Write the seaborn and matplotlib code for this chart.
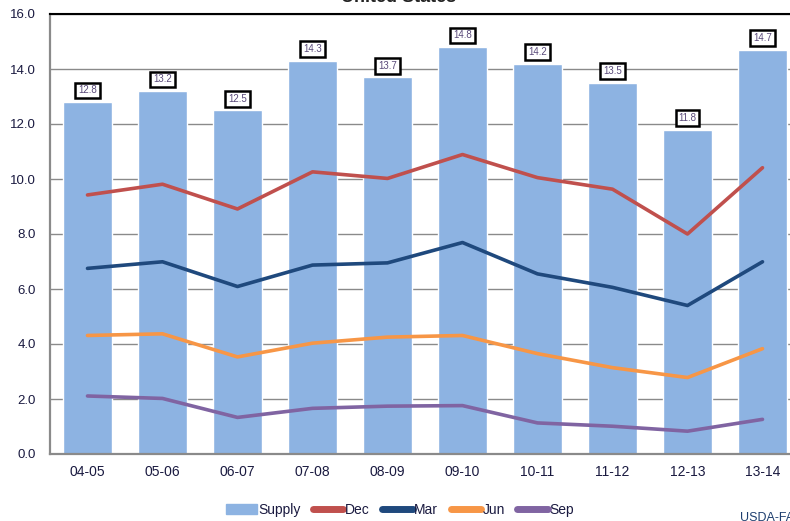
import numpy as np
import pandas as pd
import matplotlib
matplotlib.use("Agg")
import matplotlib.pyplot as plt
import seaborn as sns
from matplotlib.patches import Patch
from matplotlib.lines import Line2D

seasons = ["04-05", "05-06", "06-07", "07-08", "08-09", "09-10", "10-11", "11-12", "12-13", "13-14"]
supply = [12.8, 13.2, 12.5, 14.3, 13.7, 14.8, 14.2, 13.5, 11.8, 14.7]
dec = [9.42, 9.81, 8.91, 10.26, 10.02, 10.89, 10.05, 9.63, 8.0, 10.41]
mar = [6.75, 6.99, 6.09, 6.87, 6.95, 7.69, 6.55, 6.06, 5.40, 6.99]
jun = [4.31, 4.37, 3.53, 4.03, 4.25, 4.31, 3.65, 3.14, 2.78, 3.83]
sep = [2.11, 2.02, 1.33, 1.66, 1.74, 1.76, 1.13, 1.01, 0.83, 1.26]

bar_color = "#8DB3E2"
line_colors = {"Dec": "#C0504D", "Mar": "#1F497D", "Jun": "#F79646", "Sep": "#8064A2"}
text_color = "#1a1a40"

sns.set_style("white")
plt.rcParams["font.family"] = ["Liberation Sans", "DejaVu Sans"]

bars = pd.DataFrame({"season": seasons, "supply": supply})
lines = pd.DataFrame({"pos": np.arange(len(seasons)), "Dec": dec, "Mar": mar, "Jun": jun, "Sep": sep})
lines = lines.melt(id_vars="pos", var_name="month", value_name="value")

fig = plt.figure(figsize=(7.9, 5.21), dpi=100)
ax = fig.add_axes([50 / 790, 1 - 454 / 521, 750 / 790, 440 / 521])

sns.barplot(data=bars, x="season", y="supply", color=bar_color, width=0.65,
            saturation=1, ax=ax, zorder=2)
sns.lineplot(data=lines, x="pos", y="value", hue="month", palette=line_colors,
             linewidth=2.6, legend=False, ax=ax, zorder=3)

# boxed value labels above the bars
for p, v in zip(ax.patches, supply):
    ax.text(p.get_x() + p.get_width() / 2, v + 0.42, f"{v:.1f}", ha="center", va="center",
            fontsize=7, color="#5a4a7a", zorder=4,
            bbox=dict(boxstyle="square,pad=0.3", fc="white", ec="black", lw=1.8))

ax.set_xlim(-0.5, len(seasons) - 0.5)
ax.set_ylim(0, 16)
ax.set_yticks(np.arange(0, 16.1, 2))
ax.set_yticklabels([f"{t:.1f}" for t in np.arange(0, 16.1, 2)])
ax.set_xlabel("")
ax.set_ylabel("")
ax.yaxis.grid(True, color="#8a8a8a", lw=1)
ax.set_axisbelow(True)
ax.tick_params(axis="y", length=4, color="#8a8a8a", labelsize=9.5, labelcolor=text_color, pad=6)
ax.tick_params(axis="x", length=0, labelsize=10, labelcolor=text_color, pad=8)
for s in ["left", "bottom"]:
    ax.spines[s].set_color("#8a8a8a")
    ax.spines[s].set_linewidth(1.6)
ax.spines["right"].set_visible(False)
ax.spines["top"].set_color("black")
ax.spines["top"].set_linewidth(1.5)

fig.text(0.505, 1 - 2 / 521, "United States", ha="center", va="baseline",
         fontsize=13, fontweight="bold", color="#222222")

handles = [Patch(color=bar_color, label="Supply")]
for m, c in line_colors.items():
    handles.append(Line2D([0], [0], color=c, lw=5, solid_capstyle="round", label=m))
fig.legend(handles=handles, loc="center", bbox_to_anchor=(400 / 790, 1 - 510 / 521),
           ncol=5, frameon=False, fontsize=10, handlelength=2.2, handletextpad=0.1,
           columnspacing=0.9, labelcolor=text_color)

fig.text(740 / 790, 1 - 512 / 521, "USDA-FAS", ha="left", va="top", fontsize=9,
         color="#1F3F6F")

fig.savefig("out.png", dpi=100)
